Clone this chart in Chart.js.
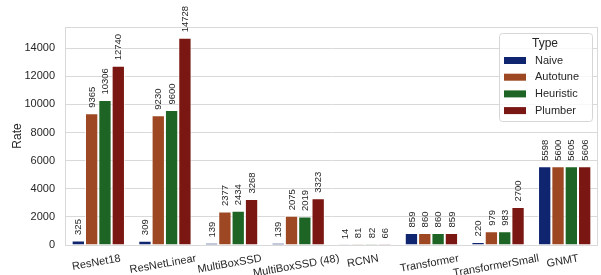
<!DOCTYPE html>
<html>
<head>
<meta charset="utf-8">
<script src="https://cdn.jsdelivr.net/npm/chart.js@4.4.0/dist/chart.umd.min.js"></script>
<style>
  body { margin: 0; background: #fff; }
  #wrap { width: 601px; height: 275px; }
</style>
</head>
<body>
<div id="wrap"><canvas id="rateChart"></canvas></div>
<script>
// data
var models = ['ResNet18', 'ResNetLinear', 'MultiBoxSSD', 'MultiBoxSSD (48)', 'RCNN', 'Transformer', 'TransformerSmall', 'GNMT'];
var naive     = [325, 309, 139, 139, 14, 859, 220, 5598];
var autotune  = [9365, 9230, 2377, 2075, 81, 860, 979, 5600];
var heuristic = [10306, 9600, 2434, 2019, 82, 860, 983, 5605];
var plumber   = [12740, 14728, 3268, 3323, 66, 859, 2700, 5606];
var typeNames = ['Naive', 'Autotune', 'Heuristic', 'Plumber'];
var yTicks = [0, 2000, 4000, 6000, 8000, 10000, 12000, 14000];
var yMax = 15500;

var colors = ['#10256f', '#9d4822', '#1e6525', '#7a1712'];
var font = '"Liberation Sans", Arial, Helvetica, sans-serif';
var textColor = '#262626';
var frameColor = '#d9d9d9';

var series = [naive, autotune, heuristic, plumber];

var datasets = series.map(function(vals, i) {
  return {
    label: typeNames[i],
    data: vals,
    backgroundColor: colors[i],
    borderColor: 'rgba(255,255,255,0.75)',
    borderWidth: 1,
    categoryPercentage: 0.8,
    barPercentage: 1.0
  };
});

// frame, value labels, rotated category labels and the legend box
var extras = {
  id: 'extras',
  afterDatasetsDraw: function(chart) {
    var ctx = chart.ctx;
    var area = chart.chartArea;

    ctx.save();
    ctx.strokeStyle = frameColor;
    ctx.lineWidth = 1;
    ctx.strokeRect(area.left + 0.5, area.top + 0.5, area.right - area.left - 1, area.bottom - area.top);
    ctx.restore();

    // values above bars, vertical
    ctx.save();
    ctx.font = '9.5px ' + font;
    ctx.fillStyle = textColor;
    chart.data.datasets.forEach(function(ds, i) {
      chart.getDatasetMeta(i).data.forEach(function(bar, j) {
        ctx.save();
        ctx.translate(bar.x + 0.5, bar.y - 5.5);
        ctx.rotate(-Math.PI / 2);
        ctx.textAlign = 'left';
        ctx.textBaseline = 'middle';
        ctx.fillText(String(ds.data[j]), 0, 0);
        ctx.restore();
      });
    });
    ctx.restore();

    // category labels, tilted 10 degrees
    var xs = chart.scales.x;
    var ang = 10 * Math.PI / 180;
    ctx.save();
    ctx.font = '11px ' + font;
    ctx.fillStyle = textColor;
    models.forEach(function(name, i) {
      var w = ctx.measureText(name).width;
      var bh = w * Math.sin(ang) + 11 * Math.cos(ang);
      var cx = xs.getPixelForValue(i) - 2;
      var cy = area.bottom + 8 + bh / 2;
      ctx.save();
      ctx.translate(cx, cy);
      ctx.rotate(-ang);
      ctx.textAlign = 'center';
      ctx.textBaseline = 'middle';
      ctx.fillText(name, 0, 0);
      ctx.restore();
    });
    ctx.restore();
  },
  afterDraw: function(chart) {
    var ctx = chart.ctx;
    var area = chart.chartArea;
    var bx = area.right - 99, by = area.top + 6, bw = 93, bhgt = 88;

    ctx.save();
    ctx.beginPath();
    ctx.roundRect(bx + 0.5, by + 0.5, bw, bhgt, 3);
    ctx.fillStyle = 'rgba(255,255,255,0.8)';
    ctx.fill();
    ctx.strokeStyle = '#d6d6d6';
    ctx.lineWidth = 1;
    ctx.stroke();

    ctx.fillStyle = textColor;
    ctx.font = '12px ' + font;
    ctx.textAlign = 'center';
    ctx.textBaseline = 'middle';
    ctx.fillText('Type', bx + 46, by + 11);

    ctx.font = '11px ' + font;
    ctx.textAlign = 'left';
    typeNames.forEach(function(name, i) {
      var cy = by + 27.5 + i * 16.7;
      ctx.fillStyle = colors[i];
      ctx.fillRect(bx + 5, cy - 3.5, 22, 7);
      ctx.fillStyle = textColor;
      ctx.fillText(name, bx + 36, cy);
    });
    ctx.restore();
  }
};

var ctx = document.getElementById('rateChart').getContext('2d');
var chart = new Chart(ctx, {
  type: 'bar',
  data: {
    labels: models,
    datasets: datasets
  },
  options: {
    responsive: true,
    maintainAspectRatio: false,
    animation: false,
    layout: { padding: { top: 27, right: 3, left: 0, bottom: 0 } },
    plugins: {
      legend: { display: false },
      tooltip: { enabled: false }
    },
    scales: {
      x: {
        grid: { display: false },
        border: { display: false },
        ticks: { display: false },
        afterFit: function(s) { s.height = 30; }
      },
      y: {
        min: 0,
        max: yMax,
        grid: { color: frameColor, drawTicks: false },
        border: { display: false },
        afterBuildTicks: function(s) {
          s.ticks = yTicks.map(function(v) { return { value: v }; });
        },
        ticks: {
          padding: 10,
          color: textColor,
          font: { family: font, size: 11 },
          callback: function(v) { return String(v); }
        },
        title: {
          display: true,
          text: 'Rate',
          color: textColor,
          font: { family: font, size: 12 },
          padding: { top: 10, bottom: 0 }
        },
        afterFit: function(s) { s.width = 65; }
      }
    }
  },
  plugins: [extras]
});
</script>
</body>
</html>
